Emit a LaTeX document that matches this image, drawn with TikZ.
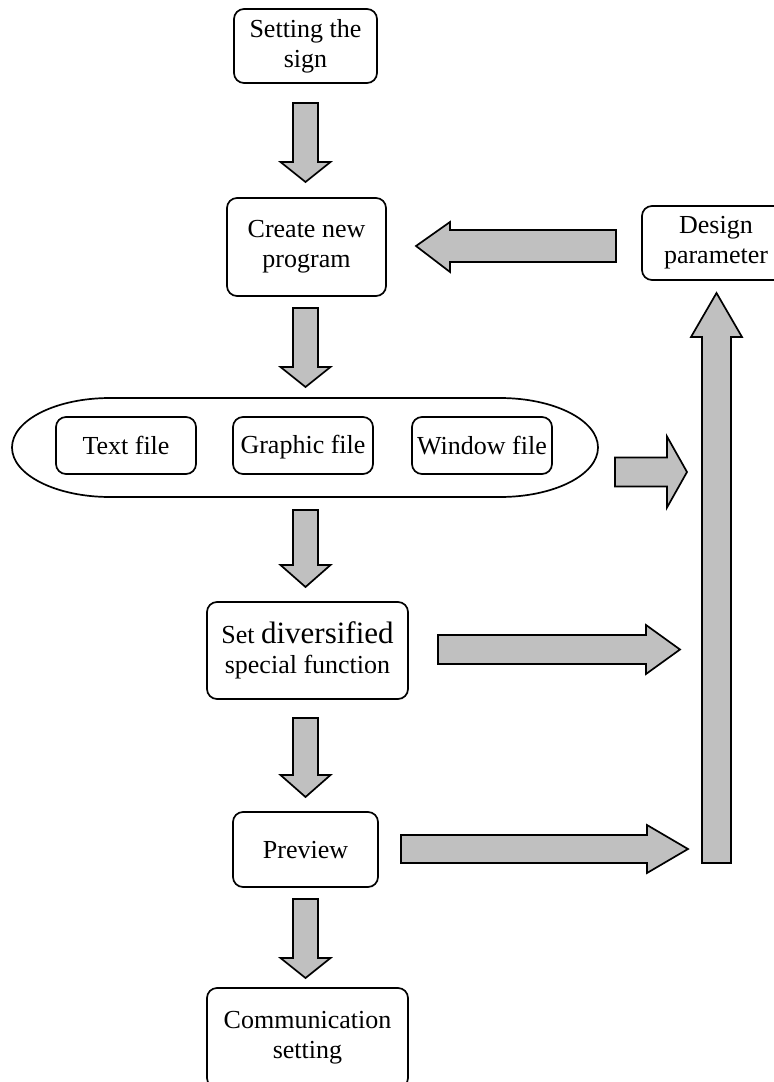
\documentclass[tikz,border=0pt]{standalone}
\usepackage{fontspec}
\setmainfont{Liberation Serif}
\definecolor{arrowgray}{HTML}{C0C0C0}
\newcommand\capstrut{\rule[-5pt]{0pt}{27pt}}
\tikzset{
  box/.style={draw=black, line width=1.7pt, rounded corners=10pt, align=center,
    inner sep=0pt, font=\fontsize{26}{30}\selectfont},
  barrow/.style={fill=arrowgray, draw=black, line width=1.7pt, line join=miter},
  outline/.style={draw=black, line width=1.7pt},
}
% down arrow: x, ytop, ybase, ytip
\newcommand\downarrowblock[4]{%
  \filldraw[barrow] (#1-12.5,#2) -- (#1+12.5,#2) -- (#1+12.5,#3) -- (#1+25,#3) -- (#1,#4)
    -- (#1-25,#3) -- (#1-12.5,#3) -- cycle;}
% right arrow: xstart, xbase, xtip, ycenter, shafthalf, headhalf
\newcommand\rightarrowblock[6]{%
  \filldraw[barrow] (#1,#4-#5) -- (#2,#4-#5) -- (#2,#4-#6) -- (#3,#4) -- (#2,#4+#6)
    -- (#2,#4+#5) -- (#1,#4+#5) -- cycle;}
\begin{document}
\begin{tikzpicture}[x=1pt,y=-1pt]
\useasboundingbox (0,0) rectangle (774,1082);
\fill[white] (0,0) rectangle (774,1082);

% nodes
\node[box, minimum width=143pt, minimum height=74pt] (sign) at (305.5,46) {Setting the\\sign};
\node[box, minimum width=159pt, minimum height=98pt] (create) at (306.5,247) {Create new\\program};
\node[box, minimum width=148pt, minimum height=74pt] (design) at (716,243) {Design\\parameter};

% container with elliptical ends
\node[minimum width=586pt, minimum height=99pt, inner sep=0pt] (files) at (305,447.5) {};
\draw[outline] (110,398) -- (500,398)
  arc[start angle=90, end angle=-90, x radius=98pt, y radius=49.5pt]
  -- (110,497)
  arc[start angle=270, end angle=90, x radius=98pt, y radius=49.5pt] -- cycle;

\node[box, minimum width=140pt, minimum height=57pt] (text) at (126,445.5) {\capstrut Text file};
\node[box, minimum width=140pt, minimum height=57pt] (graphic) at (303,445.5) {\capstrut Graphic file};
\node[box, minimum width=140pt, minimum height=57pt] (window) at (482,445.5) {\capstrut Window file};

\node[box, minimum width=201pt, minimum height=97pt] (setf) at (307.5,650.5)
  {Set {\fontsize{31}{30}\selectfont diversified}\\special function};
\node[box, minimum width=145pt, minimum height=75pt] (preview) at (305.5,849.5) {\capstrut Preview};
\node[box, minimum width=201pt, minimum height=100pt] (comm) at (307.5,1038) {Communication\\setting};

% block arrows down
\downarrowblock{305.5}{103}{162}{182}
\downarrowblock{305.5}{308}{367}{387}
\downarrowblock{305.5}{510}{565}{587}
\downarrowblock{305.5}{718}{775}{797}
\downarrowblock{305.5}{899}{958}{978}

% left arrow design -> create
\filldraw[barrow] (616,230) -- (450,230) -- (450,222) -- (416,246) -- (450,272) -- (450,262) -- (616,262) -- cycle;

% right arrows
\rightarrowblock{615}{667}{687}{472}{14.5}{35.5}
\rightarrowblock{438}{646}{680}{649.5}{14.5}{24.5}
\rightarrowblock{401}{647}{688}{849}{14}{24}

% up arrow into design parameter
\filldraw[barrow] (702,863) -- (731,863) -- (731,337) -- (742,337) -- (716.5,293) -- (691,337) -- (702,337) -- cycle;
\end{tikzpicture}
\end{document}
